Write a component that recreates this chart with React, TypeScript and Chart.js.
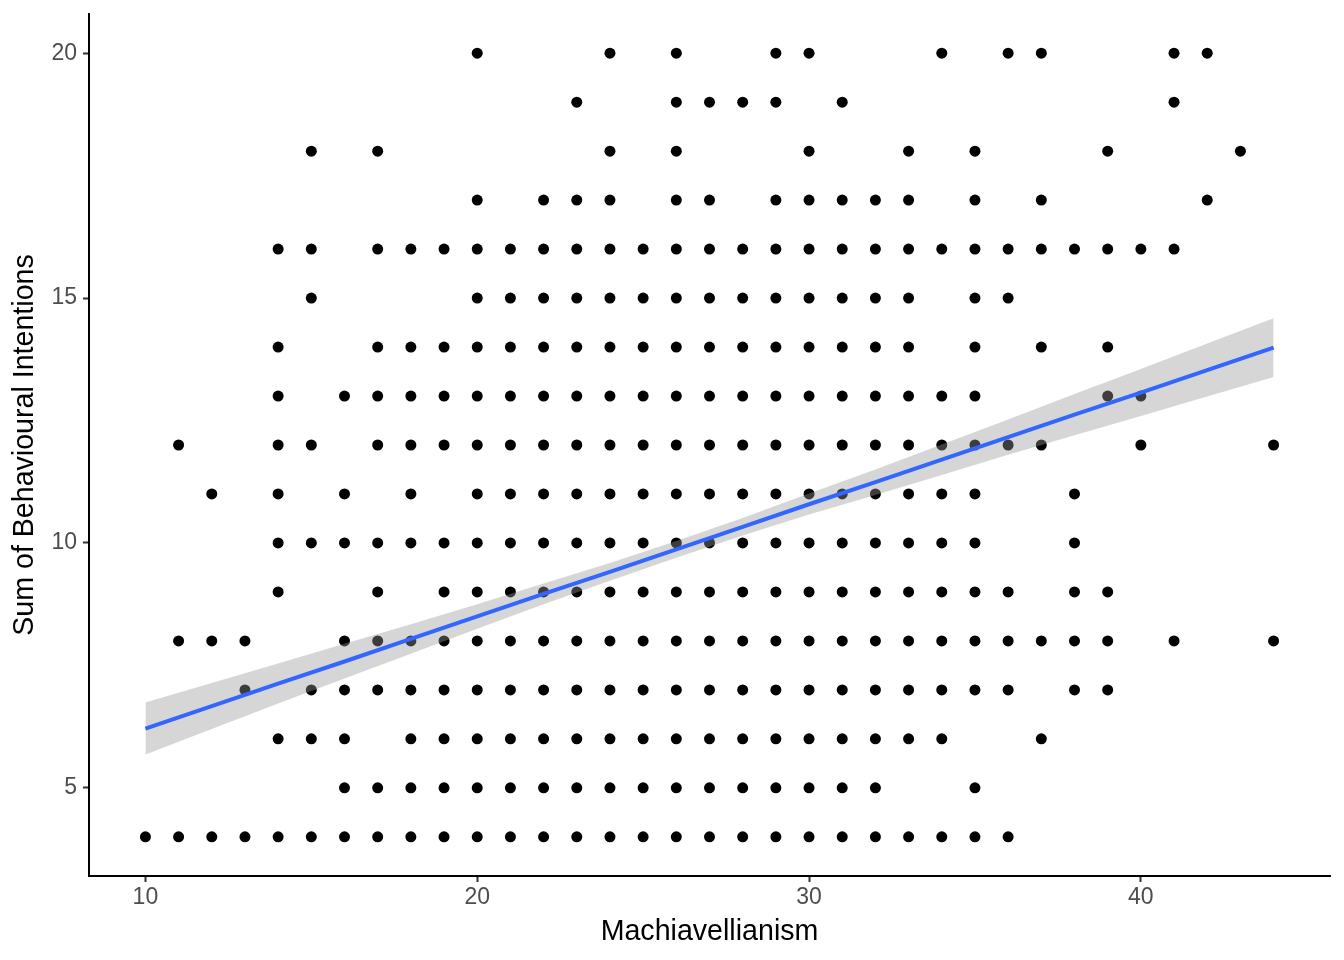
import React, { useEffect, useRef } from "react";
import { Chart, registerables } from "chart.js";

Chart.register(...registerables);

// Machiavellianism scores observed at each level of "Sum of Behavioural Intentions"
const xAtY20 = [20, 24, 26, 29, 30, 34, 36, 37, 41, 42];
const xAtY19 = [23, 26, 27, 28, 29, 31, 41];
const xAtY18 = [15, 17, 24, 26, 30, 33, 35, 39, 43];
const xAtY17 = [20, 22, 23, 24, 26, 27, 29, 30, 31, 32, 33, 35, 37, 42];
const xAtY16 = [14, 15, 17, 18, 19, 20, 21, 22, 23, 24, 25, 26, 27, 28, 29, 30, 31, 32, 33, 34, 35, 36, 37, 38, 39, 40, 41];
const xAtY15 = [15, 20, 21, 22, 23, 24, 25, 26, 27, 28, 29, 30, 31, 32, 33, 35, 36];
const xAtY14 = [14, 17, 18, 19, 20, 21, 22, 23, 24, 25, 26, 27, 28, 29, 30, 31, 32, 33, 35, 37, 39];
const xAtY13 = [14, 16, 17, 18, 19, 20, 21, 22, 23, 24, 25, 26, 27, 28, 29, 30, 31, 32, 33, 34, 35, 39, 40];
const xAtY12 = [11, 14, 15, 17, 18, 19, 20, 21, 22, 23, 24, 25, 26, 27, 28, 29, 30, 31, 32, 33, 34, 35, 36, 37, 40, 44];
const xAtY11 = [12, 14, 16, 18, 20, 21, 22, 23, 24, 25, 26, 27, 28, 29, 30, 31, 32, 33, 34, 35, 38];
const xAtY10 = [14, 15, 16, 17, 18, 19, 20, 21, 22, 23, 24, 25, 26, 27, 28, 29, 30, 31, 32, 33, 34, 35, 38];
const xAtY9 = [14, 17, 19, 20, 21, 22, 23, 24, 25, 26, 27, 28, 29, 30, 31, 32, 33, 34, 35, 36, 38, 39];
const xAtY8 = [11, 12, 13, 16, 17, 18, 19, 20, 21, 22, 23, 24, 25, 26, 27, 28, 29, 30, 31, 32, 33, 34, 35, 36, 37, 38, 39, 41, 44];
const xAtY7 = [13, 15, 16, 17, 18, 19, 20, 21, 22, 23, 24, 25, 26, 27, 28, 29, 30, 31, 32, 33, 34, 35, 36, 38, 39];
const xAtY6 = [14, 15, 16, 18, 19, 20, 21, 22, 23, 24, 25, 26, 27, 28, 29, 30, 31, 32, 33, 34, 37];
const xAtY5 = [16, 17, 18, 19, 20, 21, 22, 23, 24, 25, 26, 27, 28, 29, 30, 31, 32, 35];
const xAtY4 = [10, 11, 12, 13, 14, 15, 16, 17, 18, 19, 20, 21, 22, 23, 24, 25, 26, 27, 28, 29, 30, 31, 32, 33, 34, 35, 36];

const rows: [number, number[]][] = [
  [20, xAtY20], [19, xAtY19], [18, xAtY18], [17, xAtY17], [16, xAtY16],
  [15, xAtY15], [14, xAtY14], [13, xAtY13], [12, xAtY12], [11, xAtY11],
  [10, xAtY10], [9, xAtY9], [8, xAtY8], [7, xAtY7], [6, xAtY6],
  [5, xAtY5], [4, xAtY4],
];

// Linear fit and its confidence band
const fitX = [10, 12, 14, 16, 18, 20, 22, 24, 26, 28, 30, 32, 34, 36, 38, 40, 42, 44];
const fitY = [6.21, 6.67, 7.13, 7.58, 8.04, 8.5, 8.96, 9.41, 9.87, 10.33, 10.79, 11.24, 11.7, 12.16, 12.62, 13.07, 13.53, 13.99];
const fitLower = [5.68, 6.2, 6.72, 7.23, 7.74, 8.25, 8.75, 9.23, 9.7, 10.15, 10.58, 10.98, 11.39, 11.8, 12.2, 12.59, 12.99, 13.39];
const fitUpper = [6.74, 7.14, 7.54, 7.94, 8.34, 8.75, 9.17, 9.59, 10.04, 10.51, 11.01, 11.5, 12.01, 12.52, 13.04, 13.55, 14.07, 14.59];

const xTicks = [10, 20, 30, 40];
const yTicks = [5, 10, 15, 20];

const FONT = "'Liberation Sans', Arial, Helvetica, sans-serif";

export default function App() {
  const ref = useRef<HTMLCanvasElement | null>(null);

  useEffect(() => {
    if (!ref.current) return;
    const points: { x: number; y: number }[] = [];
    rows.forEach(([y, xs]) => xs.forEach((x) => points.push({ x, y })));
    const zip = (ys: number[]) => fitX.map((x, i) => ({ x, y: ys[i] }));

    const chart = new Chart(ref.current, {
      type: "scatter",
      data: {
        datasets: [
          {
            type: "line",
            data: zip(fitY),
            borderColor: "#3366FF",
            borderWidth: 4,
            pointRadius: 0,
            fill: false,
            tension: 0,
          },
          {
            type: "line",
            data: zip(fitUpper),
            borderWidth: 0,
            borderColor: "rgba(0,0,0,0)",
            backgroundColor: "rgba(153,153,153,0.4)",
            pointRadius: 0,
            fill: "+1",
            tension: 0,
          },
          {
            type: "line",
            data: zip(fitLower),
            borderWidth: 0,
            borderColor: "rgba(0,0,0,0)",
            pointRadius: 0,
            fill: false,
            tension: 0,
          },
          {
            data: points,
            backgroundColor: "#000000",
            borderWidth: 0,
            pointRadius: 5.5,
            pointHoverRadius: 5.5,
          },
        ],
      } as any,
      options: {
        animation: false,
        responsive: false,
        devicePixelRatio: 1,
        layout: { padding: { top: 14, right: 14, left: 0, bottom: 0 } },
        plugins: { legend: { display: false }, tooltip: { enabled: false } },
        scales: {
          x: {
            type: "linear",
            min: 8.3,
            max: 45.7,
            afterBuildTicks: (s: any) => {
              s.ticks = xTicks.map((v) => ({ value: v }));
            },
            afterFit: (s: any) => {
              s.height = 84;
              s.paddingLeft = 0;
              s.paddingRight = 0;
            },
            border: { display: true, color: "#000000", width: 2 },
            grid: {
              display: true,
              drawOnChartArea: false,
              drawTicks: true,
              tickLength: 6,
              tickColor: "#333333",
              tickWidth: 2,
            },
            ticks: {
              color: "#4D4D4D",
              font: { family: FONT, size: 23 },
              padding: 2,
              maxRotation: 0,
            },
            title: {
              display: true,
              text: "Machiavellianism",
              color: "#000000",
              font: { family: FONT, size: 28.6 },
              padding: { top: 0, bottom: 11 },
            },
          },
          y: {
            type: "linear",
            min: 3.2,
            max: 20.8,
            afterBuildTicks: (s: any) => {
              s.ticks = yTicks.map((v) => ({ value: v }));
            },
            afterFit: (s: any) => {
              s.width = 89;
              s.paddingTop = 0;
              s.paddingBottom = 0;
            },
            border: { display: true, color: "#000000", width: 2 },
            grid: {
              display: true,
              drawOnChartArea: false,
              drawTicks: true,
              tickLength: 6,
              tickColor: "#333333",
              tickWidth: 2,
            },
            ticks: {
              color: "#4D4D4D",
              font: { family: FONT, size: 23 },
              padding: 6,
            },
            title: {
              display: true,
              text: "Sum of Behavioural Intentions",
              color: "#000000",
              font: { family: FONT, size: 28.6 },
              padding: { top: 8, bottom: 0 },
            },
          },
        },
      } as any,
    });
    return () => chart.destroy();
  }, []);

  return (
    <div style={{ position: "absolute", left: 0, top: 0, width: 1344, height: 960, background: "#ffffff" }}>
      <canvas ref={ref} width={1344} height={960} style={{ width: 1344, height: 960, display: "block" }} />
    </div>
  );
}
